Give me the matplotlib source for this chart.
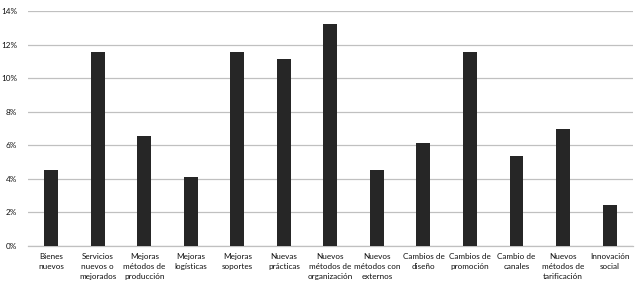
import numpy as np
import matplotlib.pyplot as plt
from matplotlib.ticker import FuncFormatter

# categories and values (share of firms, %)
categorias = [
    "Bienes\nnuevos",
    "Servicios\nnuevos o\nmejorados",
    "Mejoras\nmétodos de\nproducción",
    "Mejoras\nlogísticas",
    "Mejoras\nsoportes",
    "Nuevas\nprácticas",
    "Nuevos\nmétodos de\norganización",
    "Nuevos\nmétodos con\nexternos",
    "Cambios de\ndiseño",
    "Cambios de\npromoción",
    "Cambio de\ncanales",
    "Nuevos\nmétodos de\ntarificación",
    "Innovación\nsocial",
]
valores = [4.5, 11.55, 6.57, 4.08, 11.55, 11.15, 13.2, 4.5, 6.15, 11.55, 5.35, 6.98, 2.42]
yticks = [0, 2, 4, 6, 8, 10, 12, 14]

plt.rcParams['font.family'] = ['Lato', 'DejaVu Sans']

fig = plt.figure(figsize=(6.36, 2.83), dpi=100)
ax = fig.add_axes([0.044, 0.131, 0.951, 0.830])

x = np.arange(len(categorias))
ax.bar(x, valores, width=0.3, color='#262626', zorder=3)

ax.set_xlim(-0.5, len(categorias) - 0.5)
ax.set_ylim(0, 14)
ax.set_yticks(yticks)
ax.yaxis.set_major_formatter(FuncFormatter(lambda v, p: f"{int(v)}%"))
ax.set_xticks(x)
ax.set_xticklabels(categorias, fontsize=5.9, color='#111111', linespacing=1.5)
ax.tick_params(axis='y', labelsize=5.9, labelcolor='#111111', length=0, pad=8)
ax.tick_params(axis='x', length=0, pad=5)

ax.grid(axis='y', color='#c0c0c0', linewidth=0.9, zorder=0)
for s in ['top', 'right', 'left']:
    ax.spines[s].set_visible(False)
ax.spines['bottom'].set_color('#c0c0c0')
ax.spines['bottom'].set_linewidth(0.9)

fig.savefig('out.png', dpi=100)
